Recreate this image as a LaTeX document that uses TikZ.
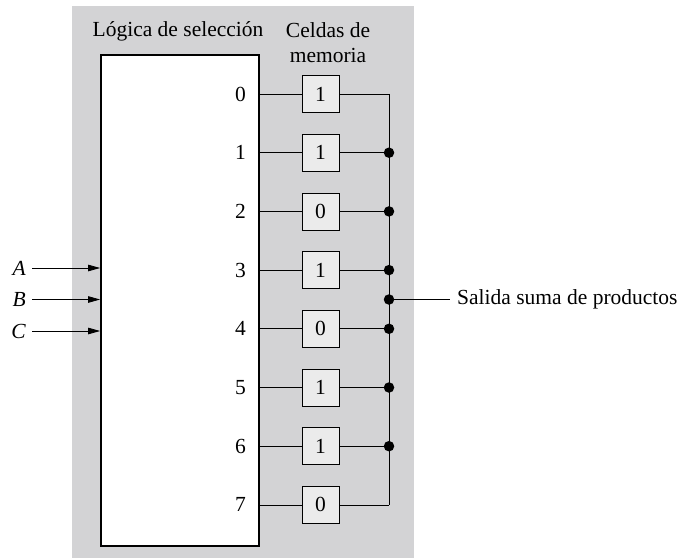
\documentclass[tikz,border=0pt]{standalone}
\usepackage{fontspec}
\setmainfont{Liberation Serif}
\usetikzlibrary{arrows.meta}
\definecolor{bggray}{HTML}{D3D3D5}
\definecolor{cellgray}{HTML}{EBEBEB}
\begin{document}
\begin{tikzpicture}[x=1pt,y=-1pt,
  txt/.style={font=\fontsize{21.5}{25}\selectfont, inner sep=0pt},
  cell/.style={draw, line width=0.8pt, fill=cellgray, minimum width=37pt, minimum height=37pt, inner sep=0pt, font=\fontsize{21.5}{25}\selectfont},
  wire/.style={line width=0.8pt},
  dot/.style={circle, fill=black, inner sep=0pt, minimum size=10.5pt},
  inarrow/.style={line width=0.8pt, -{Triangle[length=12pt,width=6.5pt]}}]
\useasboundingbox (0,0) rectangle (679,559);
\fill[bggray] (72,6) rectangle (414,558);
\node[draw, fill=white, line width=1.8pt, minimum width=158pt, minimum height=491pt, inner sep=0pt] (box) at (180,300.5) {};
\node[txt, anchor=base] (tsel) at (178,37) {Lógica de selección};
\node[txt, align=center, anchor=base] (tmem) at (328,63) {Celdas de\\memoria};
\foreach \i/\v in {0/1,1/1,2/0,3/1,4/0,5/1,6/1,7/0} {
  \pgfmathsetmacro{\yy}{94+58.7*\i}
  \node[txt, anchor=east] (l\i) at (246,\yy) {\i};
  \node[cell] (c\i) at (320.5,\yy) {\v};
  \coordinate (b\i) at (389,\yy);
  \draw[wire] (c\i.west -| box.east) -- (c\i.west);
  \draw[wire] (c\i.east) -- (b\i);
}
\draw[wire] (b0) -- (b7);
\foreach \i in {1,...,6} { \node[dot] at (b\i) {}; }
\coordinate (bo) at (389,299.5);
\node[dot] (od) at (bo) {};
\coordinate (oe) at (450,299.5);
\draw[wire] (bo) -- (oe);
\node[txt, anchor=west] (out) at (457,299.5) {Salida suma de productos};
\foreach \n/\yy in {A/268,B/299.5,C/331} {
  \node[txt, anchor=east] (lab\n) at (26,\yy) {\textit{\n}};
  \coordinate (s\n) at (32,\yy);
  \draw[inarrow] (s\n) -- (s\n -| box.west);
}
\end{tikzpicture}
\end{document}
